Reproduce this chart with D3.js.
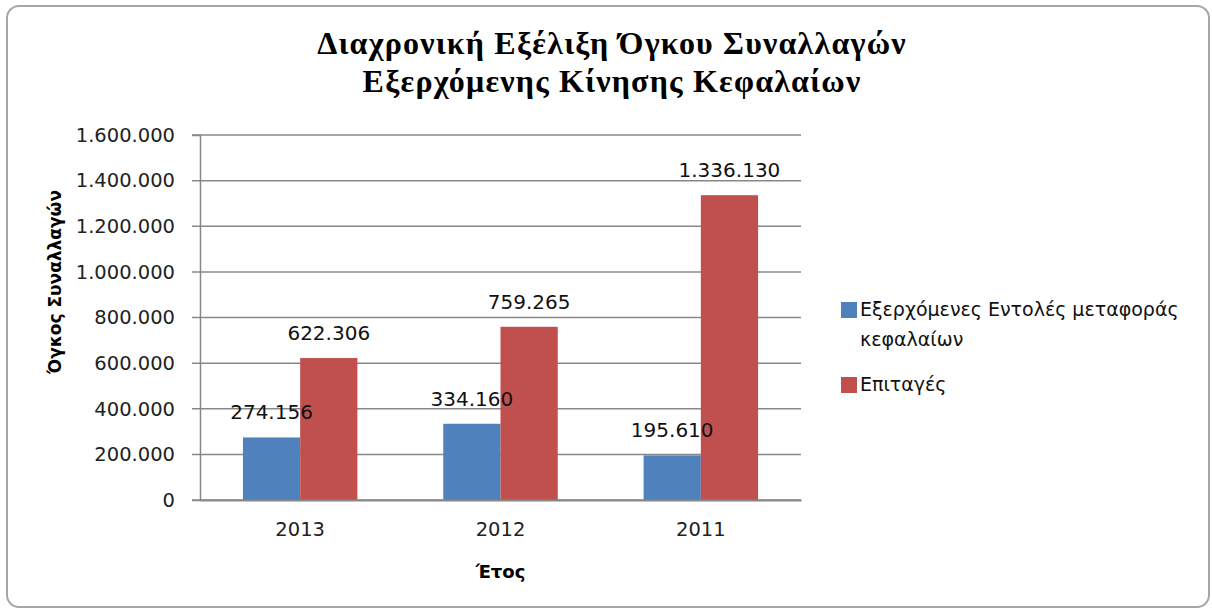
<!DOCTYPE html>
<html>
<head>
<meta charset="utf-8">
<script src="https://cdn.jsdelivr.net/npm/d3@7"></script>
<style>
  body { margin: 0; background: #fff; }
  svg { display: block; }
</style>
</head>
<body>
<svg></svg>
<script>
const years = ['2013', '2012', '2011'];
const seriesNames = ['Εξερχόμενες Εντολές μεταφοράς κεφαλαίων', 'Επιταγές'];
const transfers = [274156, 334160, 195610];
const cheques = [622306, 759265, 1336130];
const yTicks = [0, 200000, 400000, 600000, 800000, 1000000, 1200000, 1400000, 1600000];
const titleLines = ['Διαχρονική Εξέλιξη Όγκου Συναλλαγών', 'Εξερχόμενης Κίνησης Κεφαλαίων'];
const colors = ['#4f81bd', '#c0504d'];

const width = 1212;
const height = 610;
const plot = { left: 200, right: 801, top: 135, bottom: 500 };
const sans = 'DejaVu Sans, sans-serif';

const svg = d3.select('svg')
  .attr('width', width)
  .attr('height', height);

// outer chart frame
svg.append('rect')
  .attr('x', 7).attr('y', 6)
  .attr('width', 1202).attr('height', 601)
  .attr('rx', 12)
  .attr('fill', '#fff')
  .attr('stroke', '#a6a6a6')
  .attr('stroke-width', 2);

svg.append('g')
  .selectAll('text')
  .data(titleLines)
  .enter()
  .append('text')
    .attr('x', 612)
    .attr('y', (d, i) => 54 + i * 38)
    .attr('text-anchor', 'middle')
    .style('font-family', 'Liberation Serif, serif')
    .style('font-weight', 'bold')
    .style('font-size', '32px')
    .style('letter-spacing', '1.2px')
    .text((d) => d);

const xScale = d3.scaleBand()
  .domain(years)
  .range([plot.left, plot.right]);

const xInner = d3.scaleBand()
  .domain([0, 1])
  .range([0, xScale.bandwidth()])
  .paddingInner(0)
  .paddingOuter(0.75);

const yScale = d3.scaleLinear()
  .domain([0, 1600000])
  .range([plot.bottom, plot.top]);

const fmt = (v) => d3.format(',')(v).replace(/,/g, '.');

// gridlines
svg.append('g')
  .selectAll('line')
  .data(yTicks)
  .enter()
  .append('line')
    .attr('x1', plot.left - 8)
    .attr('x2', plot.right)
    .attr('y1', (d) => yScale(d))
    .attr('y2', (d) => yScale(d))
    .attr('stroke', '#888')
    .attr('stroke-width', 1.5);

// y axis
const yAxis = svg.append('g')
  .attr('transform', `translate(${plot.left},0)`)
  .call(d3.axisLeft(yScale).tickValues(yTicks).tickFormat(fmt).tickSize(8).tickPadding(17));
yAxis.select('.domain').attr('stroke', '#888').attr('stroke-width', 1.5);
yAxis.selectAll('.tick line').remove();
yAxis.selectAll('text')
  .style('font-family', sans)
  .style('font-size', '19.5px')
  .attr('fill', '#222');

// bars
const data = years.map((y, i) => ({ year: y, values: [transfers[i], cheques[i]] }));

const groups = svg.append('g')
  .selectAll('g')
  .data(data)
  .enter()
  .append('g')
    .attr('transform', (d) => `translate(${xScale(d.year)},0)`);

groups.selectAll('rect')
  .data((d) => d.values)
  .enter()
  .append('rect')
    .attr('x', (d, i) => xInner(i))
    .attr('width', xInner.bandwidth())
    .attr('y', (d) => yScale(d))
    .attr('height', (d) => yScale(0) - yScale(d))
    .attr('fill', (d, i) => colors[i]);

groups.selectAll('text')
  .data((d) => d.values)
  .enter()
  .append('text')
    .attr('x', (d, i) => xInner(i) + xInner.bandwidth() / 2)
    .attr('y', (d) => yScale(d) - 18)
    .attr('text-anchor', 'middle')
    .style('font-family', sans)
    .style('font-size', '20px')
    .attr('fill', '#111')
    .text((d) => fmt(d));

// x axis
const xAxis = svg.append('g')
  .attr('transform', `translate(0,${plot.bottom})`)
  .call(d3.axisBottom(xScale).tickSize(0).tickPadding(22));
xAxis.select('.domain').attr('stroke', '#888').attr('stroke-width', 2);
xAxis.selectAll('text')
  .style('font-family', sans)
  .style('font-size', '19.5px')
  .attr('fill', '#222');

// axis titles
svg.append('text')
  .attr('x', (plot.left + plot.right) / 2)
  .attr('y', 578)
  .attr('text-anchor', 'middle')
  .style('font-family', sans)
  .style('font-weight', 'bold')
  .style('font-size', '18px')
  .text('Έτος');

svg.append('text')
  .attr('transform', 'translate(61,282) rotate(-90)')
  .attr('text-anchor', 'middle')
  .style('font-family', sans)
  .style('font-weight', 'bold')
  .style('font-size', '17px')
  .text('Όγκος Συναλλαγών');

// legend
const legendLines = [['Εξερχόμενες Εντολές μεταφοράς', 'κεφαλαίων'], ['Επιταγές']];
const legendY = [302, 377];

const legend = svg.append('g')
  .selectAll('g')
  .data(seriesNames)
  .enter()
  .append('g')
    .attr('transform', (d, i) => `translate(841,${legendY[i]})`);

legend.append('rect')
  .attr('width', 16)
  .attr('height', 16)
  .attr('fill', (d, i) => colors[i]);

legend.append('text')
  .style('font-family', sans)
  .style('font-size', '19px')
  .attr('fill', '#111')
  .selectAll('tspan')
  .data((d, i) => legendLines[i])
  .enter()
  .append('tspan')
    .attr('x', 19)
    .attr('y', (d, j) => 14 + j * 30)
    .text((d) => d);
</script>
</body>
</html>
